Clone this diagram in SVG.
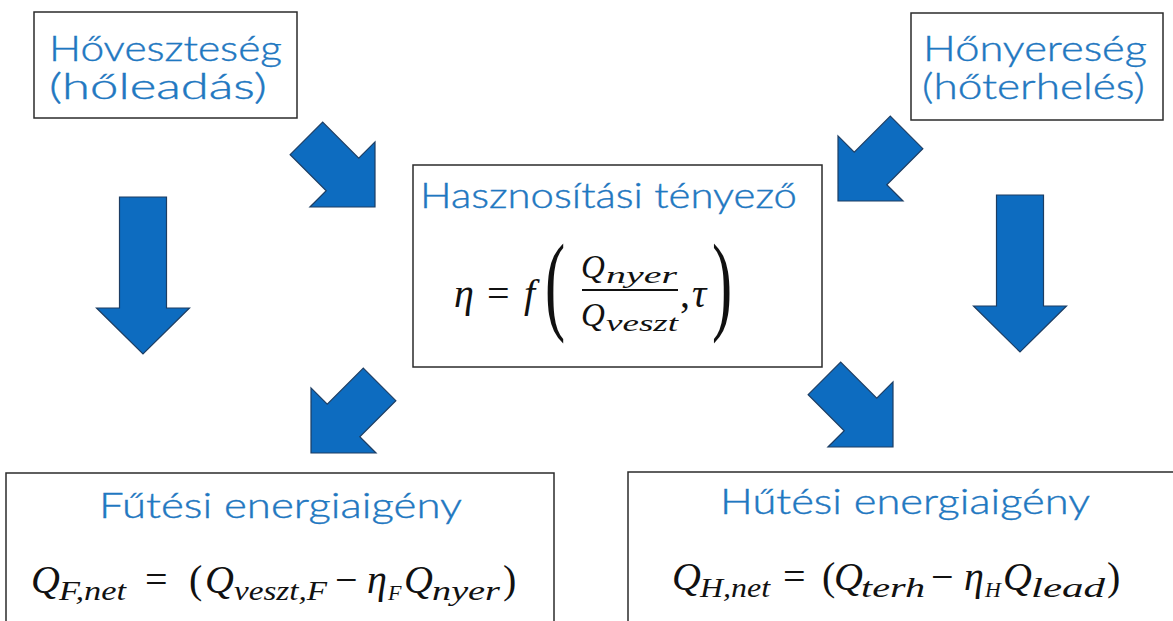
<svg xmlns="http://www.w3.org/2000/svg" width="1173" height="621" viewBox="0 0 1173 621">
<defs>
<style>
.box{fill:#fff;stroke:#2b2b2b;stroke-width:1.5}
.ttl{font-family:Lato,"Open Sans","DejaVu Sans",sans-serif;font-weight:300;font-size:35px;fill:#1f78c1;stroke:#1f78c1;stroke-width:0.4}
.m{font-family:"Liberation Serif","DejaVu Serif",serif;font-style:italic;fill:#111}
.mn{font-family:"Liberation Serif","DejaVu Serif",serif;font-style:normal;fill:#111}
.s{font-family:"Liberation Serif","DejaVu Serif",serif;font-style:italic;fill:#111}
.arr{fill:#0d6cc0;stroke:#1c3d63;stroke-width:1.2;stroke-linejoin:miter}
</style>
<polygon id="arrV" points="-23.5,-157 23.5,-157 23.5,-46 46.5,-46 0,0 -46.5,-46 -23.5,-46"/>
<polygon id="arrD" points="-23,-97 23,-97 23,-46 46,-46 0,0 -46,-46 -23,-46"/>
</defs>
<rect width="1173" height="621" fill="#fff"/>

<g id="connectors">
<use href="#arrV" class="arr" transform="translate(143,354)"/>
<use href="#arrV" class="arr" transform="translate(1020,352)"/>
<use href="#arrD" class="arr" transform="translate(375,207) rotate(-45)"/>
<use href="#arrD" class="arr" transform="translate(838,201) rotate(45)"/>
<use href="#arrD" class="arr" transform="translate(311,453) rotate(45)"/>
<use href="#arrD" class="arr" transform="translate(893,447) rotate(-45)"/>
</g>

<g id="hoveszteseg">
<rect class="box" x="34" y="12" width="263" height="106"/>
<text class="ttl" x="49" y="61" textLength="233" lengthAdjust="spacingAndGlyphs">Hőveszteség</text>
<text class="ttl" x="49" y="99" textLength="218" lengthAdjust="spacingAndGlyphs">(hőleadás)</text>
</g>

<g id="honyereseg">
<rect class="box" x="911" y="13" width="252" height="107"/>
<text class="ttl" x="923" y="61" textLength="224" lengthAdjust="spacingAndGlyphs">Hőnyereség</text>
<text class="ttl" x="922" y="99" textLength="223" lengthAdjust="spacingAndGlyphs">(hőterhelés)</text>
</g>

<g id="hasznositasi">
<rect class="box" x="413" y="165" width="409" height="202"/>
<text class="ttl" x="420" y="208" textLength="377" lengthAdjust="spacingAndGlyphs">Hasznosítási tényező</text>
<text class="m" x="454" y="307" style="font-size:40px">η</text>
<text class="mn" x="487" y="307" style="font-size:40px">=</text>
<text class="m" x="524" y="307" style="font-size:40px">f</text>
<text class="mn" transform="translate(545,320) scale(0.55,1)" style="font-size:110px">(</text>
<text class="m" x="581" y="278" style="font-size:33px">Q</text>
<text class="s" x="606" y="283" style="font-size:24px" textLength="71" lengthAdjust="spacingAndGlyphs">nyer</text>
<line x1="582" y1="290" x2="678" y2="290" stroke="#111" stroke-width="1.8"/>
<text class="m" x="581" y="326" style="font-size:33px">Q</text>
<text class="s" x="606" y="331" style="font-size:24px" textLength="72" lengthAdjust="spacingAndGlyphs">veszt</text>
<text class="mn" x="680" y="307" style="font-size:40px">,</text>
<text class="m" x="692" y="307" style="font-size:40px">τ</text>
<text class="mn" transform="translate(712,320) scale(0.55,1)" style="font-size:110px">)</text>
</g>

<g id="futesi">
<rect class="box" x="6" y="473" width="548" height="170"/>
<text class="ttl" x="99" y="518" textLength="363" lengthAdjust="spacingAndGlyphs">Fűtési energiaigény</text>
<text class="m" x="31" y="593" style="font-size:40px">Q</text>
<text class="s" x="59" y="600" style="font-size:28px" textLength="67" lengthAdjust="spacingAndGlyphs">F,net</text>
<text class="mn" x="145" y="593" style="font-size:40px">=</text>
<text class="mn" x="189" y="593" style="font-size:40px">(</text>
<text class="m" x="205" y="593" style="font-size:40px">Q</text>
<text class="s" x="234" y="600" style="font-size:28px" textLength="93" lengthAdjust="spacingAndGlyphs">veszt,F</text>
<text class="mn" x="335" y="593" style="font-size:40px">−</text>
<text class="m" x="367" y="593" style="font-size:40px">η</text>
<text class="s" x="388" y="600" style="font-size:22px">F</text>
<text class="m" x="404" y="593" style="font-size:40px">Q</text>
<text class="s" x="432" y="600" style="font-size:28px" textLength="68" lengthAdjust="spacingAndGlyphs">nyer</text>
<text class="mn" x="503" y="593" style="font-size:40px">)</text>
</g>

<g id="hutesi">
<rect class="box" x="628" y="472" width="560" height="170"/>
<text class="ttl" x="720" y="514" textLength="370" lengthAdjust="spacingAndGlyphs">Hűtési energiaigény</text>
<text class="m" x="672" y="590" style="font-size:40px">Q</text>
<text class="s" x="700" y="597" style="font-size:28px" textLength="70" lengthAdjust="spacingAndGlyphs">H,net</text>
<text class="mn" x="783" y="590" style="font-size:40px">=</text>
<text class="mn" x="822" y="590" style="font-size:40px">(</text>
<text class="m" x="834" y="590" style="font-size:40px">Q</text>
<text class="s" x="861" y="597" style="font-size:28px" textLength="64" lengthAdjust="spacingAndGlyphs">terh</text>
<text class="mn" x="931" y="590" style="font-size:40px">−</text>
<text class="m" x="964" y="590" style="font-size:40px">η</text>
<text class="s" x="985" y="597" style="font-size:22px">H</text>
<text class="m" x="1003" y="590" style="font-size:40px">Q</text>
<text class="s" x="1031" y="597" style="font-size:28px" textLength="74" lengthAdjust="spacingAndGlyphs">lead</text>
<text class="mn" x="1107" y="590" style="font-size:40px">)</text>
</g>
</svg>
